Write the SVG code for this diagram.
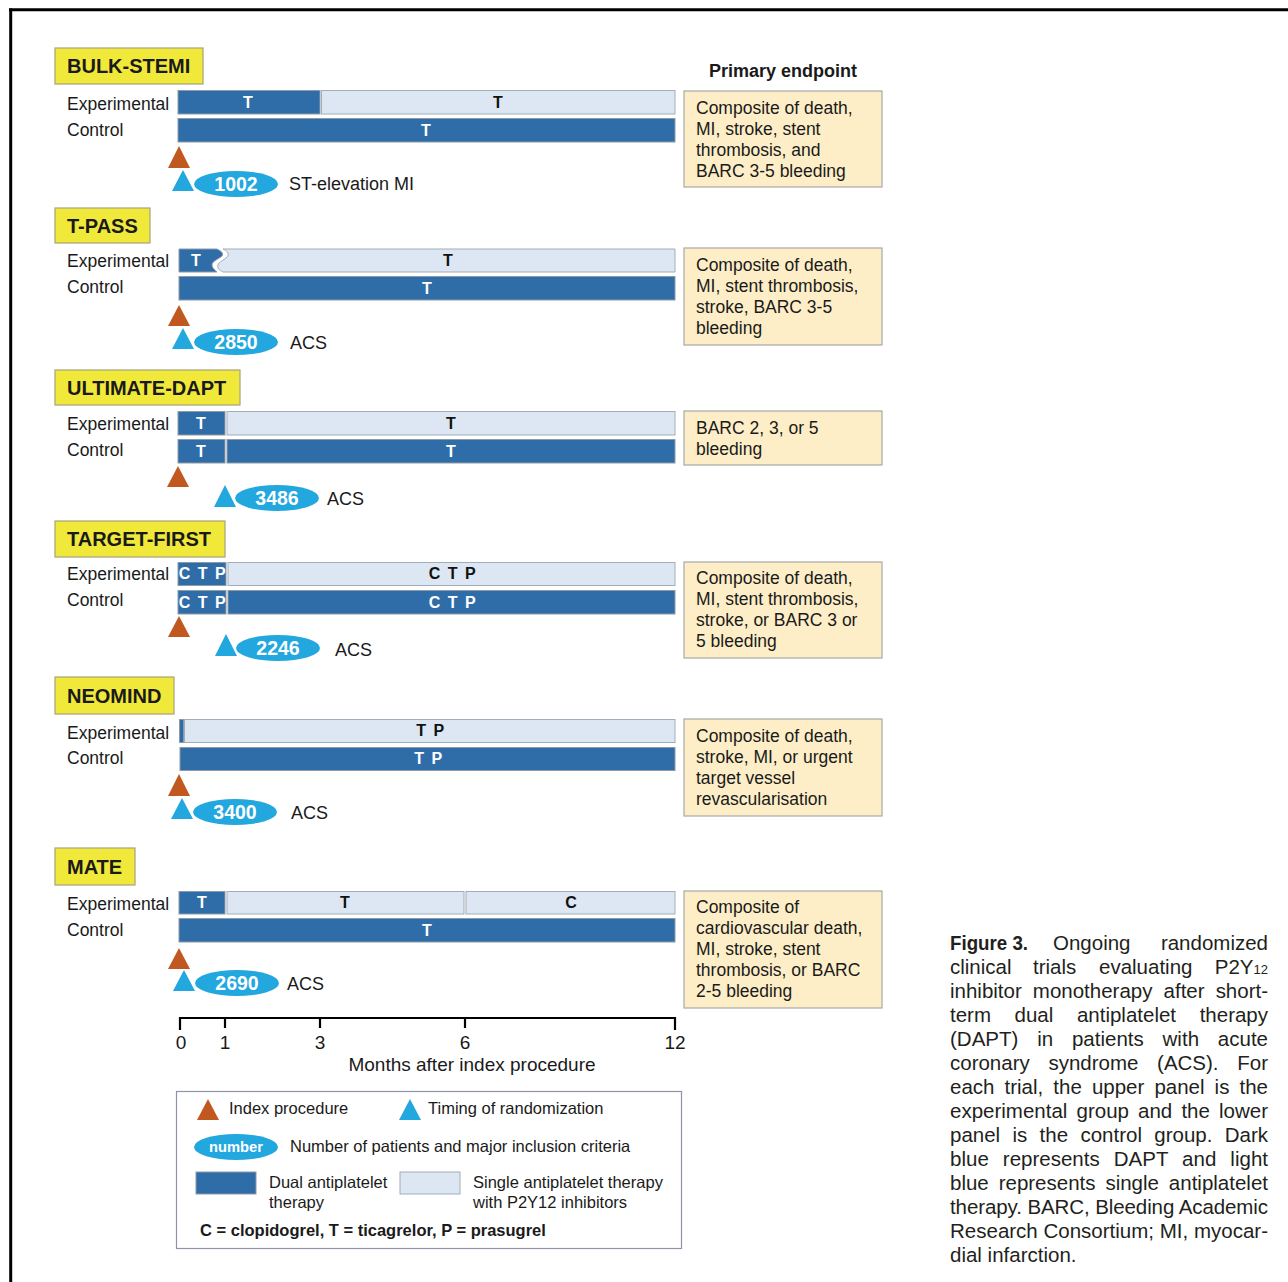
<svg xmlns="http://www.w3.org/2000/svg" width="1288" height="1282" viewBox="0 0 1288 1282">
<style>
text{font-family:"Liberation Sans",Arial,sans-serif}
.t{fill:#1a1a1a}
.lab{font-size:17.5px}
.ttl{font-size:20px;font-weight:bold}
.ep{font-size:17.5px}
.bw{font-size:16px;font-weight:bold;fill:#fff;text-anchor:middle}
.bk{font-size:16px;font-weight:bold;fill:#111;text-anchor:middle}
.num{font-size:19.5px;font-weight:bold;fill:#fff;text-anchor:middle}
.crit{font-size:18px}
.ax{font-size:19px;text-anchor:middle}
.lg{font-size:16.5px}
.cap{font-size:20.5px;fill:#231f20}
.ybox{fill:#f1e93a;stroke:#a9a27a;stroke-width:1.2}
.dk{fill:#2e6da8;stroke:#8e9aa6;stroke-width:1}
.lt{fill:#dce7f3;stroke:#a3adb8;stroke-width:1}
.epb{fill:#fdeec7;stroke:#a8a8a8;stroke-width:1.2}
.ot{fill:#c0581f}
.bt{fill:#22a7df}
.el{fill:#22a7df}
</style>
<rect width="1288" height="1282" fill="#fff"/>
<line x1="9" y1="9.8" x2="1288" y2="9.8" stroke="#000" stroke-width="3"/>
<line x1="10.7" y1="8.5" x2="10.7" y2="1282" stroke="#000" stroke-width="3"/>

<text class="t" x="783" y="77" font-size="18px" font-weight="bold" text-anchor="middle">Primary endpoint</text>

<g id="bulk-stemi">
<rect class="ybox" x="55" y="48" width="148" height="36"/>
<text class="t ttl" x="67" y="73">BULK-STEMI</text>
<text class="t lab" x="67" y="110">Experimental</text>
<text class="t lab" x="67" y="136">Control</text>
<rect class="dk" x="178" y="90.5" width="142" height="23.5"/>
<rect class="lt" x="321.5" y="90.5" width="353.5" height="23.5"/>
<text class="bw" x="248" y="108">T</text>
<text class="bk" x="498" y="108">T</text>
<rect class="dk" x="178" y="118.5" width="497" height="23.5"/>
<text class="bw" x="426" y="136">T</text>
<polygon class="ot" points="168,168 179,146 190,168"/>
<polygon class="bt" points="172,191 183,170 194,191"/>
<ellipse class="el" cx="236" cy="184" rx="42" ry="13"/>
<text class="num" x="236" y="191">1002</text>
<text class="t crit" x="289" y="190">ST-elevation MI</text>
<rect class="epb" x="684" y="91" width="198" height="96"/>
<text class="t ep" x="696" y="114">Composite of death,</text>
<text class="t ep" x="696" y="135">MI, stroke, stent</text>
<text class="t ep" x="696" y="156">thrombosis, and</text>
<text class="t ep" x="696" y="177">BARC 3-5 bleeding</text>
</g>

<g id="t-pass">
<rect class="ybox" x="55" y="208" width="95" height="35"/>
<text class="t ttl" x="67" y="233">T-PASS</text>
<text class="t lab" x="67" y="267">Experimental</text>
<text class="t lab" x="67" y="293">Control</text>
<path class="dk" d="M179,249 L217,249 C221,251 224,253 222,256 C219,259 212,261 212,265 C212,268 215,270 217,272 L179,272 Z"/>
<path class="lt" d="M223,249 L675,249 L675,272 L223,272 C219,270 217,268 218,265 C218,262 226,259 228,256 C229,253 227,251 223,249 Z"/>
<text class="bw" x="196" y="266">T</text>
<text class="bk" x="448" y="266">T</text>
<rect class="dk" x="179" y="276.5" width="496" height="23.5"/>
<text class="bw" x="427" y="294">T</text>
<polygon class="ot" points="168,326 179,305 190,326"/>
<polygon class="bt" points="172,349 183,328 194,349"/>
<ellipse class="el" cx="236" cy="342" rx="42" ry="13"/>
<text class="num" x="236" y="349">2850</text>
<text class="t crit" x="290" y="349">ACS</text>
<rect class="epb" x="684" y="248" width="198" height="97"/>
<text class="t ep" x="696" y="271">Composite of death,</text>
<text class="t ep" x="696" y="292">MI, stent thrombosis,</text>
<text class="t ep" x="696" y="313">stroke, BARC 3-5</text>
<text class="t ep" x="696" y="334">bleeding</text>
</g>

<g id="ultimate-dapt">
<rect class="ybox" x="55" y="370" width="185" height="35"/>
<text class="t ttl" x="67" y="395">ULTIMATE-DAPT</text>
<text class="t lab" x="67" y="430">Experimental</text>
<text class="t lab" x="67" y="456">Control</text>
<rect class="dk" x="178" y="411.5" width="47" height="23.5"/>
<rect class="lt" x="227" y="411.5" width="448" height="23.5"/>
<text class="bw" x="201" y="429">T</text>
<text class="bk" x="451" y="429">T</text>
<rect class="dk" x="178" y="439.5" width="47" height="23.5"/>
<rect class="dk" x="227" y="439.5" width="448" height="23.5"/>
<text class="bw" x="201" y="457">T</text>
<text class="bw" x="451" y="457">T</text>
<polygon class="ot" points="167,487 178,466 189,487"/>
<polygon class="bt" points="214,507 225,485 236,507"/>
<ellipse class="el" cx="277" cy="498" rx="42" ry="13"/>
<text class="num" x="277" y="505">3486</text>
<text class="t crit" x="327" y="505">ACS</text>
<rect class="epb" x="684" y="411" width="198" height="54"/>
<text class="t ep" x="696" y="434">BARC 2, 3, or 5</text>
<text class="t ep" x="696" y="455">bleeding</text>
</g>

<g id="target-first">
<rect class="ybox" x="55" y="521" width="170" height="36"/>
<text class="t ttl" x="67" y="546">TARGET-FIRST</text>
<text class="t lab" x="67" y="580">Experimental</text>
<text class="t lab" x="67" y="606">Control</text>
<rect class="dk" x="178" y="562.5" width="48" height="23"/>
<rect class="lt" x="228" y="562.5" width="447" height="23"/>
<text class="bw" x="203" y="579" letter-spacing="1.5">C T P</text>
<text class="bk" x="453" y="579" letter-spacing="1.5">C T P</text>
<rect class="dk" x="178" y="590.5" width="48" height="23.5"/>
<rect class="dk" x="228" y="590.5" width="447" height="23.5"/>
<text class="bw" x="203" y="608" letter-spacing="1.5">C T P</text>
<text class="bw" x="453" y="608" letter-spacing="1.5">C T P</text>
<polygon class="ot" points="168,637 179,616 190,637"/>
<polygon class="bt" points="215,656 226,634 237,656"/>
<ellipse class="el" cx="278" cy="648" rx="42" ry="13"/>
<text class="num" x="278" y="655">2246</text>
<text class="t crit" x="335" y="656">ACS</text>
<rect class="epb" x="684" y="562" width="198" height="96"/>
<text class="t ep" x="696" y="584">Composite of death,</text>
<text class="t ep" x="696" y="605">MI, stent thrombosis,</text>
<text class="t ep" x="696" y="626">stroke, or BARC 3 or</text>
<text class="t ep" x="696" y="647">5 bleeding</text>
</g>

<g id="neomind">
<rect class="ybox" x="55" y="677" width="119" height="37"/>
<text class="t ttl" x="67" y="703">NEOMIND</text>
<text class="t lab" x="67" y="739">Experimental</text>
<text class="t lab" x="67" y="764">Control</text>
<rect class="dk" x="179.5" y="719.5" width="4" height="23"/>
<rect class="lt" x="184.5" y="719.5" width="490.5" height="23"/>
<text class="bk" x="431" y="736" letter-spacing="1.5">T P</text>
<rect class="dk" x="180" y="747.5" width="495" height="23"/>
<text class="bw" x="429" y="764" letter-spacing="1.5">T P</text>
<polygon class="ot" points="168,796 179,774 190,796"/>
<polygon class="bt" points="171,819 182,798 193,819"/>
<ellipse class="el" cx="235" cy="812" rx="42" ry="13"/>
<text class="num" x="235" y="819">3400</text>
<text class="t crit" x="291" y="819">ACS</text>
<rect class="epb" x="684" y="719" width="198" height="97"/>
<text class="t ep" x="696" y="742">Composite of death,</text>
<text class="t ep" x="696" y="763">stroke, MI, or urgent</text>
<text class="t ep" x="696" y="784">target vessel</text>
<text class="t ep" x="696" y="805">revascularisation</text>
</g>

<g id="mate">
<rect class="ybox" x="55" y="848" width="80" height="37"/>
<text class="t ttl" x="67" y="874">MATE</text>
<text class="t lab" x="67" y="910">Experimental</text>
<text class="t lab" x="67" y="936">Control</text>
<rect class="dk" x="179" y="891.5" width="46" height="22.5"/>
<rect class="lt" x="227" y="891.5" width="237" height="22.5"/>
<rect class="lt" x="466" y="891.5" width="209" height="22.5"/>
<text class="bw" x="202" y="908">T</text>
<text class="bk" x="345" y="908">T</text>
<text class="bk" x="571" y="908">C</text>
<rect class="dk" x="179" y="918.5" width="496" height="23.5"/>
<text class="bw" x="427" y="936">T</text>
<polygon class="ot" points="168,969 179,948 190,969"/>
<polygon class="bt" points="173,991 184,970 195,991"/>
<ellipse class="el" cx="237" cy="983" rx="42" ry="13"/>
<text class="num" x="237" y="990">2690</text>
<text class="t crit" x="287" y="990">ACS</text>
<rect class="epb" x="684" y="891" width="198" height="117"/>
<text class="t ep" x="696" y="913">Composite of</text>
<text class="t ep" x="696" y="934">cardiovascular death,</text>
<text class="t ep" x="696" y="955">MI, stroke, stent</text>
<text class="t ep" x="696" y="976">thrombosis, or BARC</text>
<text class="t ep" x="696" y="997">2-5 bleeding</text>
</g>

<g id="axis" stroke="#000" stroke-width="2.2" fill="none">
<line x1="179" y1="1018" x2="676" y2="1018"/>
<line x1="180" y1="1017" x2="180" y2="1030"/>
<line x1="225" y1="1017" x2="225" y2="1028"/>
<line x1="320" y1="1017" x2="320" y2="1028"/>
<line x1="465" y1="1017" x2="465" y2="1028"/>
<line x1="675" y1="1017" x2="675" y2="1030"/>
</g>
<g id="axis-labels">
<text class="t ax" x="181" y="1049">0</text>
<text class="t ax" x="225" y="1049">1</text>
<text class="t ax" x="320" y="1049">3</text>
<text class="t ax" x="465" y="1049">6</text>
<text class="t ax" x="675" y="1049">12</text>
<text class="t ax" x="472" y="1071" font-size="20px">Months after index procedure</text>
</g>

<g id="legend">
<rect x="176.5" y="1091.5" width="505" height="157" fill="#fff" stroke="#8f93a8" stroke-width="1.2"/>
<polygon class="ot" points="197,1120 208,1099 219,1120"/>
<text class="t lg" x="229" y="1114">Index procedure</text>
<polygon class="bt" points="399,1120 410,1099 421,1120"/>
<text class="t lg" x="428" y="1114">Timing of randomization</text>
<ellipse class="el" cx="236" cy="1147" rx="42" ry="13"/>
<text x="236" y="1152" font-size="14.7px" font-weight="bold" fill="#fff" text-anchor="middle">number</text>
<text class="t lg" x="290" y="1152">Number of patients and major inclusion criteria</text>
<rect class="dk" x="196" y="1172" width="60" height="22"/>
<text class="t lg" x="269" y="1188">Dual antiplatelet</text>
<text class="t lg" x="269" y="1208">therapy</text>
<rect class="lt" x="400" y="1172" width="60" height="22"/>
<text class="t lg" x="473" y="1188">Single antiplatelet therapy</text>
<text class="t lg" x="473" y="1208">with P2Y12 inhibitors</text>
<text class="t" x="200" y="1236" font-size="16.5px" font-weight="bold">C = clopidogrel, T = ticagrelor, P = prasugrel</text>
</g>

<g id="caption">
<text class="cap" x="950" y="950" font-family="Liberation Sans Narrow,Liberation Sans,sans-serif" font-weight="bold" textLength="78" lengthAdjust="spacingAndGlyphs">Figure 3.</text>
<text class="cap" x="1053" y="950">Ongoing</text>
<text class="cap" x="1268" y="950" text-anchor="end">randomized</text>
<text class="cap" x="950" y="974">clinical</text>
<text class="cap" x="1033" y="974">trials</text>
<text class="cap" x="1099" y="974">evaluating</text>
<text class="cap" x="1268" y="974" text-anchor="end">P2Y<tspan font-size="13px">12</tspan></text>
<text class="cap" x="950" y="998" word-spacing="5.4" textLength="318" lengthAdjust="spacing">inhibitor monotherapy after short-</text>
<text class="cap" x="950" y="1022" word-spacing="17.9" textLength="318" lengthAdjust="spacing">term dual antiplatelet therapy</text>
<text class="cap" x="950" y="1046" word-spacing="13.1" textLength="318" lengthAdjust="spacing">(DAPT) in patients with acute</text>
<text class="cap" x="950" y="1070" word-spacing="13" textLength="318" lengthAdjust="spacing">coronary syndrome (ACS). For</text>
<text class="cap" x="950" y="1094" word-spacing="4.4" textLength="318" lengthAdjust="spacing">each trial, the upper panel is the</text>
<text class="cap" x="950" y="1118" word-spacing="3.4" textLength="318" lengthAdjust="spacing">experimental group and the lower</text>
<text class="cap" x="950" y="1142" word-spacing="6.6" textLength="318" lengthAdjust="spacing">panel is the control group. Dark</text>
<text class="cap" x="950" y="1166" word-spacing="8.3" textLength="318" lengthAdjust="spacing">blue represents DAPT and light</text>
<text class="cap" x="950" y="1190" word-spacing="4.2" textLength="318" lengthAdjust="spacing">blue represents single antiplatelet</text>
<text class="cap" x="950" y="1214" textLength="318" lengthAdjust="spacing">therapy. BARC, Bleeding Academic</text>
<text class="cap" x="950" y="1238" textLength="318" lengthAdjust="spacing">Research Consortium; MI, myocar-</text>
<text class="cap" x="950" y="1262">dial infarction.</text>
</g>
</svg>
